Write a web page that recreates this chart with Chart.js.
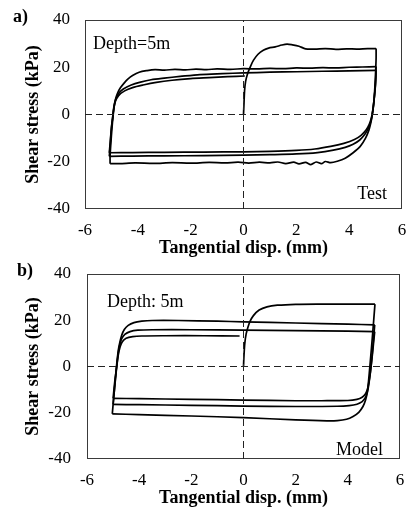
<!DOCTYPE html>
<html><head><meta charset="utf-8">
<script src="https://cdn.jsdelivr.net/npm/chart.js@4.4.0/dist/chart.umd.min.js"></script>
<style>
html,body{margin:0;padding:0;background:#fff;}
#wrap{position:relative;width:409px;height:509px;overflow:hidden;}
canvas{display:block;}
</style></head><body>
<div id="wrap">
<canvas id="c1" width="409" height="259"></canvas>
<canvas id="c2" width="409" height="250"></canvas>
</div>
<script>
const xTicks = [-6, -4, -2, 0, 2, 4, 6];
const yTicks = [-40, -20, 0, 20, 40];
const xLabel = 'Tangential disp. (mm)';
const yLabel = 'Shear stress (kPa)';

// ---- Panel a) Test ----
const testLoad0 = [[0,0],[0.02,5],[0.04,10],[0.08,14],[0.16,17.5],[0.27,20.5],[0.38,23],[0.55,25.5],[0.75,27.2],[0.95,28.1],[1.2,28.6],[1.45,29.4],[1.65,29.8],[1.85,29.5],[2.1,28.9],[2.35,27.8],[2.7,27.7],[3.1,27.9],[3.5,27.6],[3.9,27.8],[4.3,27.7],[4.7,27.9],[5.02,27.9]];
const testUnload1 = [[5.02,27.9],[5.02,24],[5.01,20.5],[4.98,13],[4.94,6],[4.89,1],[4.83,-3],[4.75,-6.5],[4.62,-10],[4.42,-13.5],[4.15,-16.2],[3.85,-18.5],[3.55,-19.8],[3.3,-20.4],[3.1,-19.9],[2.95,-20.8],[2.75,-20.1],[2.55,-21.2],[2.35,-20.3],[2.1,-20.9],[1.9,-20.2],[1.6,-20.8],[1.3,-20.1],[1.0,-20.5],[0.6,-20.2],[0.2,-20.6],[-0.2,-20.2],[-0.7,-20.5],[-1.3,-20.3],[-2,-20.6],[-2.7,-20.4],[-3.4,-20.7],[-4.1,-20.5],[-4.7,-20.8],[-5.05,-20.8]];
const testReload1 = [[-5.05,-20.8],[-5.05,-17.5],[-5.02,-12],[-4.98,-6],[-4.94,-1],[-4.9,3],[-4.85,6.3],[-4.77,9],[-4.66,11.3],[-4.52,13.3],[-4.38,15],[-4.2,16.5],[-3.95,17.9],[-3.65,18.6],[-3.35,19.0],[-3,18.8],[-2.6,19.1],[-2.2,18.9],[-1.8,19.2],[-1.4,19.0],[-1,19.3],[-0.5,19.1],[0,19.4],[0.5,19.3],[1,19.5],[1.5,19.4],[2,19.7],[2.5,19.6],[3,19.8],[3.5,19.7],[4,20.0],[4.5,20.1],[5.02,20.3]];
const testUnload2 = [[5.02,20.3],[5.0,14],[4.95,7],[4.89,1.5],[4.83,-2.5],[4.74,-5.5],[4.6,-8.3],[4.4,-10.8],[4.15,-12.6],[3.85,-13.9],[3.4,-15.1],[2.8,-16.1],[2,-16.7],[1,-17.0],[0,-17.2],[-1.5,-17.4],[-3,-17.5],[-4.2,-17.6],[-5.08,-17.7]];
const testReload2 = [[-5.08,-17.7],[-5.04,-12],[-5.0,-6],[-4.95,-1],[-4.91,3],[-4.85,6],[-4.74,8.7],[-4.55,10.8],[-4.25,12.5],[-3.9,13.7],[-3.5,14.7],[-3,15.4],[-2.4,16.1],[-1.65,16.9],[-0.8,17.3],[0,17.6],[1,17.9],[2,18.1],[3,18.3],[4,18.5],[5.02,18.7]];
const testUnload3 = [[5.02,18.7],[5.0,13],[4.95,7],[4.9,2],[4.84,-1.5],[4.76,-4.2],[4.64,-6.6],[4.45,-8.8],[4.2,-10.6],[3.8,-12.2],[3.3,-13.5],[2.7,-14.6],[2,-15.2],[1,-15.6],[0,-15.8],[-1.5,-15.9],[-3,-16.0],[-4.2,-16.1],[-5.08,-16.2]];
const testReload3 = [[-5.08,-16.2],[-5.04,-11],[-5.0,-5.5],[-4.95,-1],[-4.91,2.5],[-4.85,5.5],[-4.73,8],[-4.5,10],[-4.2,11.4],[-3.8,12.5],[-3.3,13.6],[-2.7,14.5],[-2,15.2],[-1.3,15.6],[-0.6,16.0],[0.05,16.3]];

// ---- Panel b) Model ----
const modelLoad0 = [[0,0],[0.02,5],[0.05,10],[0.1,14],[0.17,17],[0.25,19.5],[0.38,22],[0.6,24.4],[0.9,25.8],[1.3,26.5],[2,26.9],[3,27],[4,27],[5.04,27]];
const modelUnload1 = [[5.04,27],[4.95,14],[4.86,2],[4.78,-8],[4.74,-11.5],[4.68,-14.5],[4.58,-17.3],[4.42,-19.8],[4.2,-21.6],[3.95,-22.8],[3.6,-23.4],[3.2,-23.5],[2,-23.1],[0,-22.1],[-2,-21.4],[-4,-20.8],[-5.03,-20.5]];
const modelReload1 = [[-5.03,-20.5],[-4.95,-10],[-4.87,0],[-4.8,7],[-4.74,10.5],[-4.67,13.5],[-4.57,16],[-4.42,17.8],[-4.2,19.0],[-3.9,19.6],[-3.5,19.9],[-2.5,19.9],[-1,19.6],[0,19.3],[2,18.8],[4,18.3],[5.03,18.0]];
const modelUnload2 = [[5.03,18.0],[4.94,6],[4.86,-3],[4.8,-8],[4.75,-11],[4.67,-13.5],[4.55,-15.2],[4.35,-16.3],[4.05,-16.9],[3.6,-17.2],[2,-17.3],[0,-17.1],[-2,-16.8],[-4,-16.5],[-5.0,-16.4]];
const modelReload2 = [[-5.0,-16.4],[-4.93,-8],[-4.86,0],[-4.8,6],[-4.74,9.5],[-4.67,12],[-4.55,13.9],[-4.35,15.1],[-4.05,15.7],[-3.5,15.9],[-2,15.9],[0,15.7],[2,15.5],[4,15.3],[5.03,15.1]];
const modelUnload3 = [[5.03,15.1],[4.94,5],[4.87,-2],[4.81,-6.5],[4.76,-9.5],[4.68,-11.8],[4.55,-13.3],[4.35,-14.2],[4.0,-14.7],[3,-14.8],[2,-14.8],[0,-14.5],[-2,-14.2],[-4,-13.9],[-5.0,-13.8]];
const modelReload3 = [[-5.0,-13.8],[-4.93,-6],[-4.86,0],[-4.8,5],[-4.73,8.5],[-4.64,10.8],[-4.5,12.2],[-4.25,12.9],[-3.9,13.2],[-3,13.3],[-1.5,13.3],[-0.15,13.2]];

const zeroH = [[-6,0],[6,0]];
const zeroV = [[0,-40],[0,40]];

const FONT = "'Liberation Serif', 'Times New Roman', serif";

const framePlugin = {
  id: 'frame',
  beforeDatasetsDraw(chart) {
    const {ctx, chartArea: a} = chart;
    ctx.save();
    ctx.strokeStyle = '#3a3a3a';
    ctx.lineWidth = 1;
    ctx.strokeRect(Math.round(a.left) + 0.5, Math.round(a.top) + 0.5, Math.round(a.right - a.left) - 1, Math.round(a.bottom - a.top) - 1);
    ctx.restore();
  },
  afterDraw(chart, args, opts) {
    const {ctx, chartArea: a} = chart;
    ctx.save();
    ctx.fillStyle = '#000';
    ctx.textBaseline = 'alphabetic';
    ctx.font = 'bold 18px ' + FONT;
    ctx.textAlign = 'left';
    ctx.fillText(opts.label, opts.labelX, opts.labelY);
    ctx.font = '18px ' + FONT;
    ctx.fillText(opts.tl, a.left + opts.tlDx, a.top + opts.tlDy);
    ctx.textAlign = 'right';
    ctx.fillText(opts.br, a.right - opts.brDx, a.bottom - opts.brDy);
    ctx.restore();
  }
};

function toPts(arr) { return arr.map(p => ({x: p[0], y: p[1]})); }

function makeChart(id, branches, cfg) {
  const datasets = [
    {data: toPts(zeroH), borderColor: '#222', borderWidth: 1, borderDash: [7, 4], tension: 0},
    {data: toPts(zeroV), borderColor: '#222', borderWidth: 1, borderDash: [7, 4], tension: 0}
  ];
  branches.forEach(b => datasets.push({data: toPts(b), borderColor: '#000', borderWidth: 1.7, tension: 0.3}));
  datasets.forEach(d => { d.showLine = true; d.pointRadius = 0; d.fill = false; });
  return new Chart(document.getElementById(id), {
    type: 'scatter',
    data: {datasets},
    options: {
      responsive: false, animation: false, devicePixelRatio: 1,
      layout: {padding: {left: 0, right: cfg.padRight, top: cfg.padTop, bottom: 0}},
      plugins: {legend: {display: false}, tooltip: {enabled: false}, frame: cfg.text},
      scales: {
        x: {
          type: 'linear', min: -6, max: 6,
          afterBuildTicks: s => { s.ticks = xTicks.map(v => ({value: v})); },
          afterFit: s => { s.height = cfg.xHeight; s.paddingLeft = 0; s.paddingRight = 0; },
          grid: {display: false, drawTicks: false},
          border: {display: false},
          ticks: {color: '#000', padding: cfg.xTickPad, font: {family: FONT, size: 17}},
          title: {display: true, text: xLabel, color: '#000', padding: {top: 0, bottom: cfg.xTitlePad}, font: {family: FONT, size: 18, weight: 'bold'}}
        },
        y: {
          type: 'linear', min: -40, max: 40,
          afterBuildTicks: s => { s.ticks = yTicks.map(v => ({value: v})); },
          afterFit: s => { s.width = cfg.yWidth; s.paddingTop = 0; s.paddingBottom = 0; },
          grid: {display: false, drawTicks: false},
          border: {display: false},
          ticks: {color: '#000', padding: cfg.yTickPad, font: {family: FONT, size: 17}},
          title: {display: true, text: yLabel, color: '#000', padding: {top: 23, bottom: 0}, font: {family: FONT, size: 18, weight: 'bold'}}
        }
      }
    },
    plugins: [framePlugin]
  });
}

makeChart('c1', [testLoad0, testUnload1, testReload1, testUnload2, testReload2, testUnload3, testReload3], {
  padRight: 7, padTop: 20, xHeight: 50, yWidth: 85, yTickPad: 15, xTickPad: 11, xTitlePad: 0,
  text: {label: 'a)', labelX: 13, labelY: 22, tl: 'Depth=5m', tlDx: 8, tlDy: 29, br: 'Test', brDx: 15, brDy: 10}
});
makeChart('c2', [modelLoad0, modelUnload1, modelReload1, modelUnload2, modelReload2, modelUnload3, modelReload3], {
  padRight: 9, padTop: 15, xHeight: 50, yWidth: 87, yTickPad: 16, xTickPad: 11, xTitlePad: 0,
  text: {label: 'b)', labelX: 17, labelY: 17, tl: 'Depth: 5m', tlDx: 20, tlDy: 33, br: 'Model', brDx: 17, brDy: 4}
});
</script>
</body></html>
